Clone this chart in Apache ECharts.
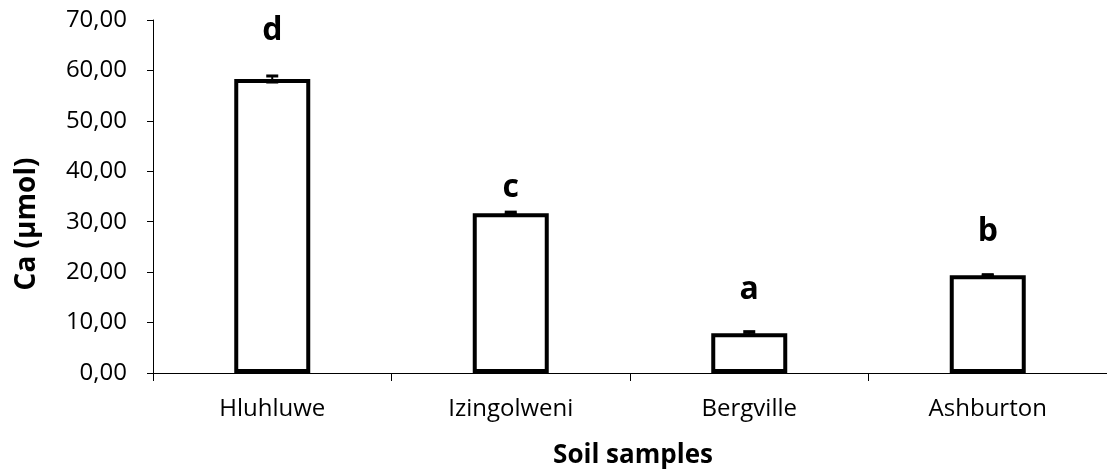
<!DOCTYPE html>
<html>
<head>
<meta charset="utf-8">
<script src="https://cdn.jsdelivr.net/npm/echarts@6/dist/echarts.min.js"></script>
<style>html,body{margin:0;padding:0;background:#fff}#c{width:1107px;height:473px}</style>
</head>
<body>
<div id="c"></div>
<script>
const categories = ['Hluhluwe', 'Izingolweni', 'Bergville', 'Ashburton'];
const values = [58.3, 31.7, 7.9, 19.4];
const errors = [0.6, 0.2, 0.3, 0.1];
const letters = ['d', 'c', 'a', 'b'];
const letterPos = [67.9, 36.7, 16.5, 28.0];
const yTicks = { min: 0, max: 70, interval: 10 };
const yTitle = 'Ca (µmol)';
const xTitle = 'Soil samples';

const FONT = 'Open Sans';
const chart = echarts.init(document.getElementById('c'), null, { renderer: 'canvas' });
chart.setOption({
  animation: false,
  backgroundColor: '#fff',
  grid: { left: 153, right: -6, top: 20, bottom: 100, containLabel: false },
  xAxis: {
    type: 'category',
    data: categories,
    boundaryGap: true,
    axisLine: { show: true, lineStyle: { color: '#000', width: 1 } },
    axisTick: { show: true, alignWithLabel: false, length: 8, lineStyle: { color: '#000', width: 1 } },
    axisLabel: { color: '#000', fontFamily: FONT, fontSize: 24, margin: 24 },
    splitLine: { show: false }
  },
  yAxis: {
    type: 'value',
    min: yTicks.min, max: yTicks.max, interval: yTicks.interval,
    axisLine: { show: true, lineStyle: { color: '#000', width: 1 } },
    axisTick: { show: true, inside: false, length: 6, lineStyle: { color: '#000', width: 1 } },
    axisLabel: {
      color: '#000', fontFamily: FONT, fontSize: 24, margin: 26,
      formatter: v => v.toFixed(2).replace('.', ',')
    },
    splitLine: { show: false }
  },
  graphic: [
    { type: 'text', x: 27, y: 224, rotation: Math.PI / 2,
      style: { text: yTitle, fontFamily: FONT, fontWeight: 'bold', fontSize: 28, fill: '#000',
               align: 'center', verticalAlign: 'middle' }
    },
    { type: 'text', x: 633, y: 456,
      style: { text: xTitle, fontFamily: FONT, fontWeight: 'bold', fontSize: 26, fill: '#000',
               align: 'center', verticalAlign: 'middle' }
    }
  ],
  series: [
    {
      type: 'bar',
      data: values,
      barWidth: 76,
      itemStyle: { color: '#fff', borderColor: '#000', borderWidth: 4 },
      z: 2
    },
    {
      type: 'custom',
      data: values.map((v, i) => [i, v, errors[i]]),
      renderItem: function (params, api) {
        const x = api.coord([api.value(0), 0])[0];
        const top = api.coord([api.value(0), api.value(1) + api.value(2)])[1];
        const bot = api.coord([api.value(0), api.value(1) - api.value(2)])[1];
        return {
          type: 'group',
          children: [
            { type: 'line', shape: { x1: x, y1: top, x2: x, y2: bot }, style: { stroke: '#000', lineWidth: 2 } },
            { type: 'line', shape: { x1: x - 6, y1: top, x2: x + 6, y2: top }, style: { stroke: '#000', lineWidth: 3 } },
            { type: 'line', shape: { x1: x - 6, y1: bot, x2: x + 6, y2: bot }, style: { stroke: '#000', lineWidth: 3 } }
          ]
        };
      },
      z: 3
    },
    {
      type: 'custom',
      data: letterPos.map((v, i) => [i, v]),
      renderItem: function (params, api) {
        const p = api.coord([api.value(0), api.value(1)]);
        return {
          type: 'text', x: p[0], y: p[1],
          style: { text: letters[params.dataIndex], fill: '#000', fontFamily: FONT,
                   fontWeight: 'bold', fontSize: 32, align: 'center', verticalAlign: 'middle' }
        };
      },
      z: 4
    }
  ]
});
</script>
</body>
</html>
